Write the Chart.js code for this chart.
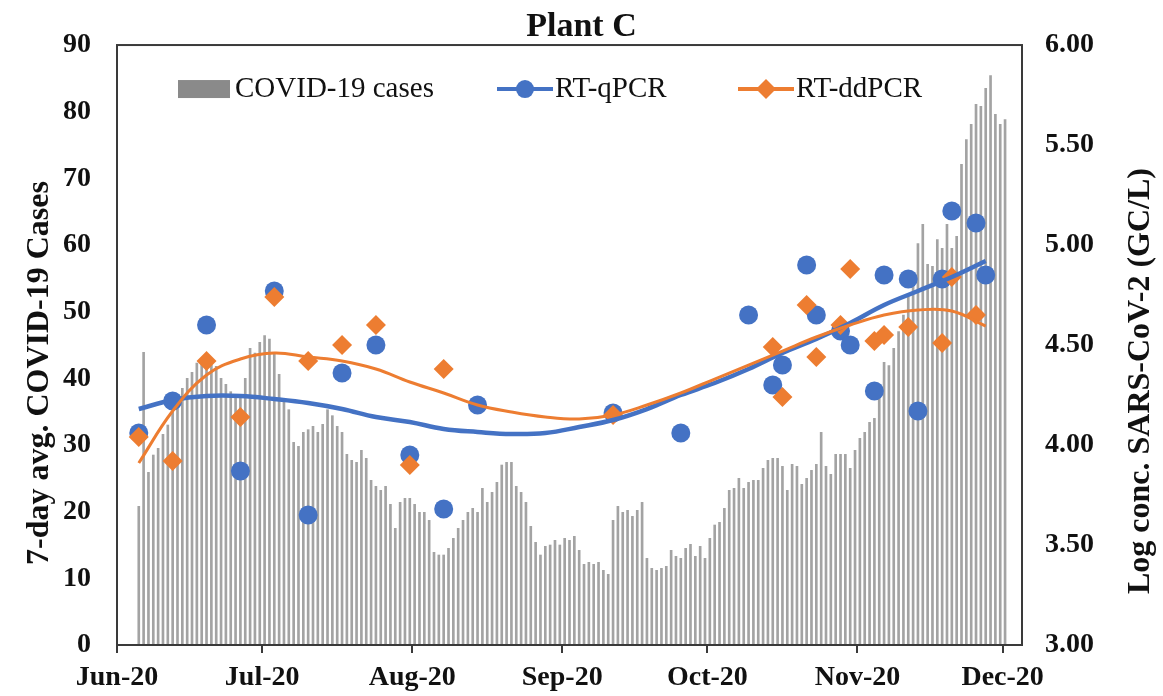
<!DOCTYPE html>
<html>
<head>
<meta charset="utf-8">
<title>Plant C</title>
<script src="https://cdn.jsdelivr.net/npm/chart.js@4.4.1/dist/chart.umd.min.js"></script>
<style>
  body { margin: 0; background: #fff; }
  #wrap { width: 1163px; height: 696px; }
</style>
</head>
<body>
<div id="wrap"><canvas id="chart" width="1163" height="696"></canvas></div>
<script>
// values

// 7-day avg cases, one bar per day starting Jun 5
const caseStart = "2020-06-05";
const dailyCases = [
  20.8, 43.9, 25.9, 28.5, 29.5, 31.6, 33.0, 35.0, 37.0, 38.5,
  40.0, 40.9, 42.3, 42.5, 43.0, 42.0, 41.8, 40.0, 39.1, 38.0,
  37.0, 37.0, 40.0, 44.5, 43.8, 45.4, 46.4, 45.9, 43.8, 40.6,
  36.5, 35.3, 30.4, 29.8, 31.9, 32.3, 32.8, 31.9, 33.1, 35.3,
  34.4, 32.8, 31.9, 28.6, 27.7, 27.4, 29.2, 28.0, 24.7, 23.8,
  23.2, 23.8, 21.1, 17.5, 21.4, 22.0, 22.0, 21.1, 19.9, 19.9,
  18.7, 13.9, 13.5, 13.5, 14.5, 16.0, 17.5, 18.7, 19.9, 20.5,
  19.9, 23.5, 21.4, 22.9, 24.4, 27.0, 27.4, 27.4, 23.8, 22.9,
  21.4, 17.8, 15.4, 13.5, 14.8, 15.0, 15.7, 15.0, 16.0, 15.7,
  16.3, 14.2, 12.1, 12.4, 12.1, 12.4, 11.2, 10.6, 18.7, 20.8,
  19.9, 20.2, 19.3, 20.2, 21.4, 13.0, 11.5, 11.2, 11.5, 11.8,
  14.2, 13.3, 13.0, 14.5, 15.1, 13.3, 14.8, 13.0, 16.0, 18.0,
  18.4, 20.5, 23.2, 23.5, 25.0, 23.5, 24.4, 24.7, 24.7, 26.5,
  27.7, 28.0, 28.0, 26.8, 23.2, 27.1, 26.8, 24.1, 25.0, 26.2,
  27.1, 31.9, 26.8, 25.6, 28.6, 28.6, 28.6, 26.5, 29.2, 31.0,
  31.9, 33.4, 34.0, 37.0, 42.4, 41.9, 44.5, 47.0, 49.5, 52.5,
  55.5, 60.2, 63.1, 57.1, 56.8, 60.8, 59.5, 63.1, 59.5, 61.3,
  72.1, 75.8, 78.1, 81.1, 80.8, 83.5, 85.4, 79.6, 78.1, 78.8
];

// RT-qPCR samples, log GC/L
const qpcrDates = [
  "2020-06-05", "2020-06-12", "2020-06-19", "2020-06-26", "2020-07-03",
  "2020-07-10", "2020-07-17", "2020-07-24", "2020-07-31", "2020-08-07",
  "2020-08-14", "2020-09-11", "2020-09-25", "2020-10-09", "2020-10-14",
  "2020-10-16", "2020-10-21", "2020-10-23", "2020-10-28", "2020-10-30",
  "2020-11-04", "2020-11-06", "2020-11-11", "2020-11-13", "2020-11-18",
  "2020-11-20", "2020-11-25", "2020-11-27"
];
const qpcrLog = [
  4.06, 4.22, 4.60, 3.87, 4.77, 3.65, 4.36, 4.50, 3.95, 3.68,
  4.20, 4.16, 4.06, 4.65, 4.30, 4.40, 4.90, 4.65, 4.57, 4.50,
  4.27, 4.85, 4.83, 4.17, 4.83, 5.17, 5.11, 4.85
];

// RT-ddPCR samples, log GC/L
const ddpcrDates = [
  "2020-06-05", "2020-06-12", "2020-06-19", "2020-06-26", "2020-07-03",
  "2020-07-10", "2020-07-17", "2020-07-24", "2020-07-31", "2020-08-07",
  "2020-09-11", "2020-10-14", "2020-10-16", "2020-10-21", "2020-10-23",
  "2020-10-28", "2020-10-30", "2020-11-04", "2020-11-06", "2020-11-11",
  "2020-11-18", "2020-11-20", "2020-11-25"
];
const ddpcrLog = [
  4.04, 3.92, 4.42, 4.14, 4.74, 4.42, 4.50, 4.60, 3.90, 4.38,
  4.15, 4.49, 4.24, 4.70, 4.44, 4.60, 4.88, 4.52, 4.55, 4.59,
  4.51, 4.84, 4.65
];

// trend curves, read weekly along the drawn lines
const trendDates = [
  "2020-06-05", "2020-06-12", "2020-06-19", "2020-06-26", "2020-07-03",
  "2020-07-10", "2020-07-17", "2020-07-24", "2020-07-31", "2020-08-07",
  "2020-08-14", "2020-08-21", "2020-08-28", "2020-09-04", "2020-09-11",
  "2020-09-18", "2020-09-25", "2020-10-02", "2020-10-09", "2020-10-16",
  "2020-10-23", "2020-10-30", "2020-11-06", "2020-11-13", "2020-11-20",
  "2020-11-27"
];
const qpcrTrend = [
  4.18, 4.225, 4.245, 4.245, 4.23, 4.21, 4.18, 4.14, 4.115, 4.08,
  4.065, 4.055, 4.06, 4.09, 4.125, 4.18, 4.25, 4.31, 4.38, 4.46,
  4.53, 4.61, 4.70, 4.77, 4.84, 4.92
];
const ddpcrTrend = [
  3.91, 4.17, 4.35, 4.43, 4.46, 4.44, 4.42, 4.38, 4.315, 4.26,
  4.20, 4.165, 4.14, 4.13, 4.15, 4.20, 4.26, 4.33, 4.40, 4.47,
  4.54, 4.60, 4.65, 4.675, 4.67, 4.595
];

const monthStarts = ["2020-06-01", "2020-07-01", "2020-08-01", "2020-09-01", "2020-10-01", "2020-11-01", "2020-12-01"];
const monthLabels = ["Jun-20", "Jul-20", "Aug-20", "Sep-20", "Oct-20", "Nov-20", "Dec-20"];
const axisEnd = "2020-12-05";

const leftTitle = "7-day avg. COVID-19 Cases";
const rightTitle = "Log conc. SARS-CoV-2 (GC/L)";

const serif = "'Liberation Serif', 'Times New Roman', serif";
const ink = "#111";
const blue = "#4472C4";
const orange = "#ED7D31";
const grey = "#a3a3a3";

// days since Jun 1, 2020
const DAY0 = Date.UTC(2020, 5, 1);
function dayOf(s) {
  const [y, m, d] = s.split("-").map(Number);
  return (Date.UTC(y, m - 1, d) - DAY0) / 86400000;
}
// a day's mark sits in the middle of its slot
const pts = (dates, vals) => dates.map((d, i) => ({ x: dayOf(d) + 0.5, y: vals[i] }));

const caseData = dailyCases.map((v, i) => ({ x: dayOf(caseStart) + i + 0.5, y: v }));

const tickFont = { family: serif, size: 28, weight: "bold" };

// box around the plot area
const frame = {
  id: "frame",
  afterDraw(chart) {
    const { ctx, chartArea: a } = chart;
    ctx.save();
    ctx.strokeStyle = "#3a3a3a";
    ctx.lineWidth = 2;
    ctx.strokeRect(a.left, a.top, a.right - a.left, a.bottom - a.top);
    ctx.restore();
  }
};

// both axis titles read bottom to top
const axisTitles = {
  id: "axisTitles",
  afterDraw(chart) {
    const { ctx, chartArea: a } = chart;
    const midY = (a.top + a.bottom) / 2 + 28;
    ctx.save();
    ctx.fillStyle = ink;
    ctx.font = "bold 32px " + serif;
    ctx.textAlign = "center";
    ctx.textBaseline = "middle";
    [[leftTitle, 40, midY], [rightTitle, 1141, midY + 8]].forEach(([t, x, y]) => {
      ctx.save();
      ctx.translate(x, y);
      ctx.rotate(-Math.PI / 2);
      ctx.fillText(t, 0, 0);
      ctx.restore();
    });
    ctx.restore();
  }
};

// legend sits inside the plot, under the top edge
const insideLegend = {
  id: "insideLegend",
  afterDraw(chart) {
    const { ctx, chartArea: a } = chart;
    const ds = chart.data.datasets;
    const bars = ds.find(d => d.type === "bar");
    const q = ds.find(d => d.label === "RT-qPCR");
    const dd = ds.find(d => d.label === "RT-ddPCR");
    const y = a.top + 44;
    ctx.save();
    ctx.font = "29px " + serif;
    ctx.textBaseline = "middle";

    ctx.fillStyle = "#8a8a8a";
    ctx.fillRect(178, y - 9, 52, 18);
    ctx.fillStyle = ink;
    ctx.fillText(bars.label, 235, y);

    ctx.strokeStyle = q.backgroundColor;
    ctx.lineWidth = 4;
    ctx.beginPath(); ctx.moveTo(497, y); ctx.lineTo(553, y); ctx.stroke();
    ctx.fillStyle = q.backgroundColor;
    ctx.beginPath(); ctx.arc(525, y, 9, 0, Math.PI * 2); ctx.fill();
    ctx.fillStyle = ink;
    ctx.fillText(q.label, 555, y);

    ctx.strokeStyle = dd.backgroundColor;
    ctx.lineWidth = 4;
    ctx.beginPath(); ctx.moveTo(738, y); ctx.lineTo(794, y); ctx.stroke();
    ctx.fillStyle = dd.backgroundColor;
    ctx.beginPath();
    ctx.moveTo(766, y - 10); ctx.lineTo(776, y); ctx.lineTo(766, y + 10); ctx.lineTo(756, y);
    ctx.closePath(); ctx.fill();
    ctx.fillStyle = ink;
    ctx.fillText(dd.label, 796, y);
    ctx.restore();
  }
};

new Chart(document.getElementById("chart"), {
  type: "bar",
  data: {
    datasets: [
      {
        type: "line", label: "RT-ddPCR trend", data: pts(trendDates, ddpcrTrend),
        yAxisID: "y2", borderColor: orange, borderWidth: 3, pointRadius: 0,
        tension: 0.4, fill: false, order: 1
      },
      {
        type: "line", label: "RT-qPCR trend", data: pts(trendDates, qpcrTrend),
        yAxisID: "y2", borderColor: blue, borderWidth: 4.5, pointRadius: 0,
        tension: 0.4, fill: false, order: 2
      },
      {
        type: "scatter", label: "RT-ddPCR", data: pts(ddpcrDates, ddpcrLog),
        yAxisID: "y2", pointStyle: "rectRot", pointRadius: 10,
        backgroundColor: orange, borderColor: orange, borderWidth: 0, order: 3
      },
      {
        type: "scatter", label: "RT-qPCR", data: pts(qpcrDates, qpcrLog),
        yAxisID: "y2", pointStyle: "circle", pointRadius: 9.5,
        backgroundColor: blue, borderColor: blue, borderWidth: 0, order: 4
      },
      {
        type: "bar", label: "COVID-19 cases", data: caseData,
        yAxisID: "y", backgroundColor: grey, barThickness: 2, order: 5
      }
    ]
  },
  options: {
    responsive: false,
    animation: false,
    devicePixelRatio: 1,
    layout: { padding: 0 },
    plugins: {
      legend: { display: false },
      tooltip: { enabled: false },
      title: {
        display: true,
        text: "Plant C",
        color: ink,
        font: { family: serif, size: 34, weight: "bold", lineHeight: 1.06 },
        padding: { top: 9, bottom: 0 }
      }
    },
    scales: {
      x: {
        type: "linear",
        min: 0,
        max: dayOf(axisEnd),
        offset: false,
        afterBuildTicks: s => { s.ticks = monthStarts.map(d => ({ value: dayOf(d) })); },
        afterFit: s => { s.height = 51; },
        ticks: {
          autoSkip: false,
          maxRotation: 0,
          padding: 8,
          color: ink,
          font: tickFont,
          callback: (v, i) => monthLabels[i]
        },
        grid: {
          display: true, drawOnChartArea: false, drawTicks: true,
          tickLength: 8, color: "#3a3a3a", lineWidth: 2, offset: false
        },
        border: { display: false }
      },
      y: {
        position: "left",
        min: 0,
        max: 90,
        afterFit: s => { s.width = 117; },
        ticks: { stepSize: 10, padding: 26, color: ink, font: tickFont },
        grid: { display: false, drawTicks: false },
        border: { display: false }
      },
      y2: {
        position: "right",
        min: 3,
        max: 6,
        afterFit: s => { s.width = 141; },
        ticks: { stepSize: 0.5, padding: 23, color: ink, font: tickFont, callback: v => v.toFixed(2) },
        grid: { display: false, drawTicks: false },
        border: { display: false }
      }
    }
  },
  plugins: [frame, axisTitles, insideLegend]
});
</script>
</body>
</html>
